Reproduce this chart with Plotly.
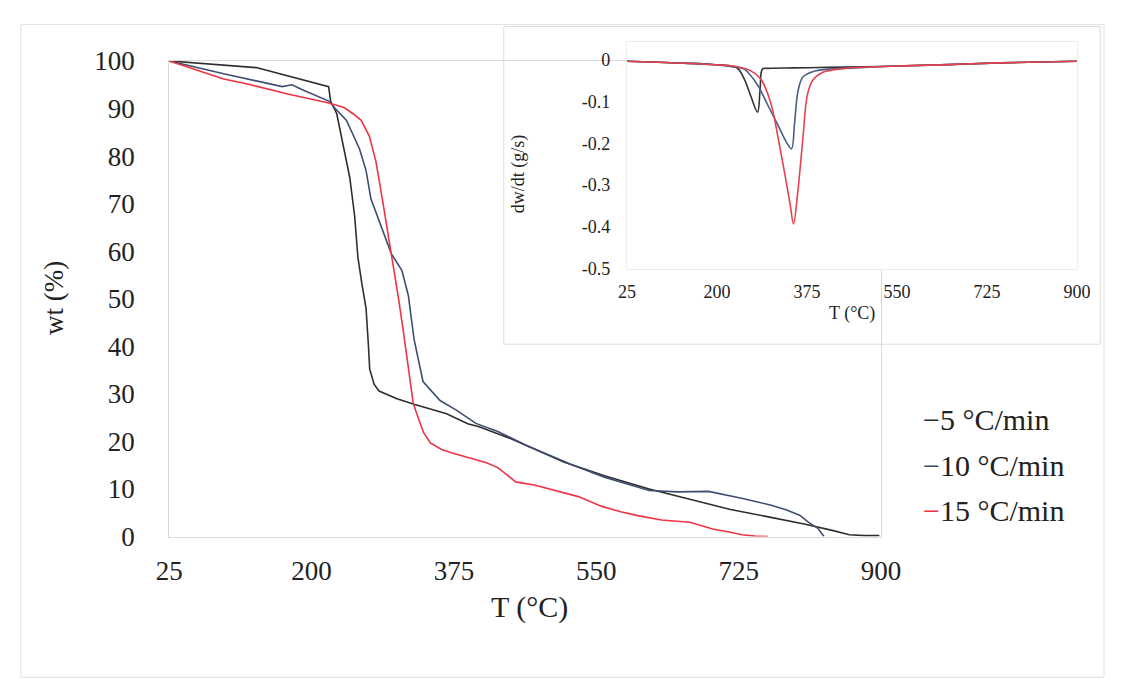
import plotly.graph_objects as go

# ---------------- data: TGA curves (main plot) ----------------
T_5 = [25, 132, 221, 223.5, 231, 239, 247, 253, 257, 262, 267, 270, 271.5, 277, 283, 305, 326,
       366, 392, 406, 446, 510, 560, 615, 665, 715, 760, 807, 840, 861, 880, 898]
wt_5 = [100, 98.6, 94.6, 91.5, 88.9, 82.1, 75.5, 67.4, 58.7, 53, 48, 40, 35.2, 32, 30.6, 29, 27.8,
        25.8, 23.7, 23.1, 20.5, 15.7, 12.8, 10, 7.9, 5.7, 4.2, 2.6, 1.3, 0.4, 0.2, 0.2]

T_10 = [25, 92, 164, 176, 188, 222, 228, 243, 259, 267, 273, 283, 298, 311, 319, 326, 337, 358,
        378, 402, 429, 465, 520, 560, 615, 650, 688, 730, 765, 784, 800, 811, 822, 830]
wt_10 = [100, 97.3, 94.6, 95, 94, 91.5, 90.2, 87.5, 81.5, 77, 71, 66.5, 59.5, 56, 50.7, 41.5, 32.6, 28.6,
         26.6, 23.8, 22.1, 19.1, 15.1, 12.5, 9.7, 9.4, 9.5, 8, 6.6, 5.6, 4.5, 3.0, 1.8, 0]

T_15 = [25, 92, 120, 172, 220, 240, 251, 261, 271, 279, 287, 295, 302, 307, 313, 319, 325, 332, 338,
        346, 360, 374, 395, 415, 429, 451, 475, 501, 528, 556, 580, 601, 630, 665, 693, 715, 729, 745, 761]
wt_15 = [100, 96.2, 95.2, 93, 91.2, 90.2, 88.9, 87.5, 84.2, 79, 71, 62.5, 56, 50, 43, 36, 28, 24.5, 21.8,
         19.7, 18.3, 17.5, 16.4, 15.5, 14.5, 11.5, 10.8, 9.7, 8.4, 6.4, 5.2, 4.4, 3.5, 3.0, 1.6, 0.9, 0.4, 0.1, 0]

# ---------------- data: DTG curves (inset) ----------------
Td_5 = [25, 100, 191, 238, 253, 266, 279, 284, 288.5, 300, 350, 400, 450, 550, 650, 750, 900]
dw_5 = [-0.003, -0.006, -0.011, -0.018, -0.045, -0.087, -0.125, -0.07, -0.022, -0.02, -0.019,
        -0.018, -0.017, -0.0145, -0.011, -0.007, -0.003]

Td_10 = [25, 100, 191, 238, 253, 279, 298, 317, 335.6, 345, 351, 357.5, 367, 386, 417, 450,
         550, 650, 750, 900]
dw_10 = [-0.003, -0.006, -0.011, -0.018, -0.022, -0.06, -0.106, -0.152, -0.198, -0.213, -0.152,
         -0.076, -0.041, -0.028, -0.022, -0.02, -0.0145, -0.011, -0.007, -0.003]

Td_15 = [25, 100, 191, 240, 266, 285, 304, 323, 342, 349, 357.5, 367, 376, 386, 405, 442, 550,
         650, 750, 900]
dw_15 = [-0.003, -0.006, -0.011, -0.016, -0.026, -0.045, -0.1, -0.213, -0.343, -0.393, -0.313,
         -0.19, -0.083, -0.049, -0.03, -0.021, -0.0145, -0.011, -0.007, -0.003]

series_names = ["5 °C/min", "10 °C/min", "15 °C/min"]
main_colors = ["#2e2e2e", "#3e4d70", "#ee3442"]
inset_colors = ["#333333", "#4a5e88", "#e8404c"]

x_ticks = [25, 200, 375, 550, 725, 900]
y_ticks = [0, 10, 20, 30, 40, 50, 60, 70, 80, 90, 100]
inset_y_ticks = [0, -0.1, -0.2, -0.3, -0.4, -0.5]
inset_y_text = ["0", "-0.1", "-0.2", "-0.3", "-0.4", "-0.5"]

W, H = 1126, 698
FONT = "Liberation Serif"

def px(x):
    return x / W

def py(y):
    return 1 - y / H

fig = go.Figure()

for T, w, c, n in zip([T_5, T_10, T_15], [wt_5, wt_10, wt_15], main_colors, series_names):
    fig.add_trace(go.Scatter(x=T, y=w, mode="lines", name=n,
                             line=dict(color=c, width=1.6), showlegend=False,
                             xaxis="x", yaxis="y"))

for T, d, c, n in zip([Td_5, Td_10, Td_15], [dw_5, dw_10, dw_15], inset_colors, series_names):
    fig.add_trace(go.Scatter(x=T, y=d, mode="lines", name=n, line_shape="spline",
                             line=dict(color=c, width=1.6), showlegend=False,
                             xaxis="x2", yaxis="y2"))

shapes = [
    # outer chart frame
    dict(type="rect", xref="paper", yref="paper", x0=px(7), x1=px(1124), y0=py(692), y1=py(10),
         line=dict(color="#e2e2e2", width=1), fillcolor="rgba(0,0,0,0)", layer="below"),
    # inset chart box
    dict(type="rect", xref="paper", yref="paper", x0=px(505), x1=px(1120), y0=py(344), y1=py(12),
         line=dict(color="#dcdcdc", width=1), fillcolor="white", layer="below"),
]

annotations = [
    dict(text="T (°C)", x=px(532), y=py(619), xref="paper", yref="paper", showarrow=False,
         font=dict(family=FONT, size=30, color="#222"), xanchor="center", yanchor="middle"),
    dict(text="wt (%)", x=px(42), y=py(296), xref="paper", yref="paper", showarrow=False,
         textangle=-90, font=dict(family=FONT, size=27, color="#222"), xanchor="center", yanchor="middle"),
    dict(text="T (°C)", x=px(864), y=py(312), xref="paper", yref="paper", showarrow=False,
         font=dict(family=FONT, size=18, color="#222"), xanchor="center", yanchor="middle"),
    dict(text="dw/dt (g/s)", x=px(521), y=py(166), xref="paper", yref="paper", showarrow=False,
         textangle=-90, font=dict(family=FONT, size=18, color="#222"), xanchor="center", yanchor="middle"),
]

legend_y = [423, 471, 518]
for n, c, yy in zip(series_names, main_colors, legend_y):
    annotations.append(dict(text=f"<span style='color:{c}'>−</span>{n}", x=px(935), y=py(yy),
                            xref="paper", yref="paper", showarrow=False, xanchor="left",
                            yanchor="middle", font=dict(family=FONT, size=30, color="#222")))

fig.update_layout(
    width=W, height=H,
    margin=dict(l=0, r=0, t=0, b=0),
    paper_bgcolor="white", plot_bgcolor="white",
    shapes=shapes, annotations=annotations,
    xaxis=dict(domain=[px(160), px(894)], range=[25, 900], tickvals=x_ticks,
               showgrid=False, zeroline=False, showline=True, mirror=True,
               linecolor="#d9d9d9", linewidth=1, ticks="outside", ticklen=10,
               tickcolor="rgba(0,0,0,0)", tickfont=dict(family=FONT, size=27, color="#222"),
               anchor="y"),
    yaxis=dict(domain=[py(545), py(48)], range=[0, 100], tickvals=y_ticks,
               showgrid=False, zeroline=False, showline=True, mirror=True,
               linecolor="#d9d9d9", linewidth=1, ticks="outside", ticklen=28,
               tickcolor="rgba(0,0,0,0)", tickfont=dict(family=FONT, size=27, color="#222"),
               anchor="x"),
    xaxis2=dict(domain=[px(632), px(1096)], range=[25, 900], tickvals=x_ticks,
                showgrid=False, zeroline=False, showline=True, mirror=True,
                linecolor="#ececec", linewidth=1, ticks="outside", ticklen=7,
                tickcolor="rgba(0,0,0,0)", tickfont=dict(family=FONT, size=18, color="#222"),
                anchor="y2"),
    yaxis2=dict(domain=[py(265), py(28)], range=[-0.5, 0.0436], tickvals=inset_y_ticks,
                ticktext=inset_y_text,
                showgrid=False, zeroline=False, showline=True, mirror=True,
                linecolor="#ececec", linewidth=1, ticks="outside", ticklen=12,
                tickcolor="rgba(0,0,0,0)", tickfont=dict(family=FONT, size=18, color="#222"),
                anchor="x2"),
)

fig.write_html("out.html")
